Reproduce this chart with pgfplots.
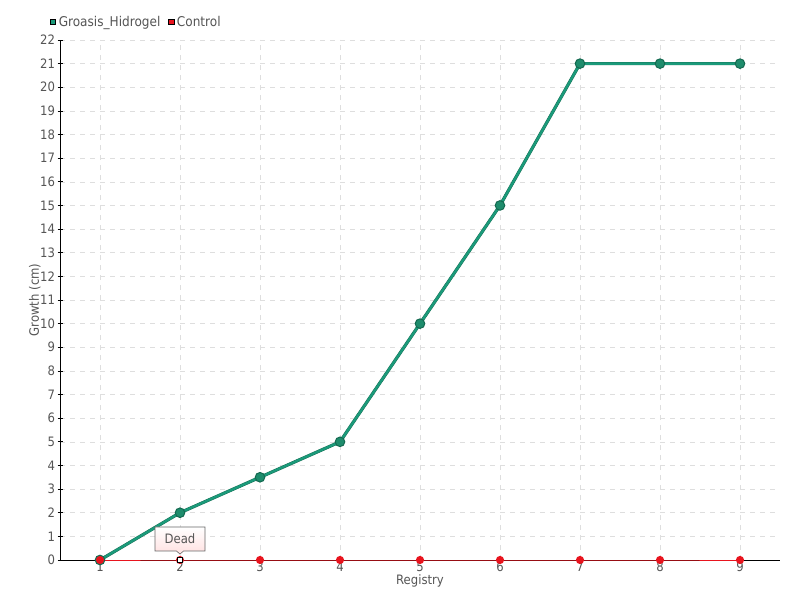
\documentclass[border=0pt]{standalone}
\usepackage{pgfplots}
\pgfplotsset{compat=1.18}
\usepackage{fontspec}
\setmainfont{DejaVu Sans Condensed}
\usetikzlibrary{shapes.callouts}
\definecolor{grn}{RGB}{27,154,122}
\definecolor{grnm}{RGB}{30,140,108}
\definecolor{grnd}{RGB}{20,105,80}
\definecolor{redc}{RGB}{232,20,30}
\definecolor{txt}{RGB}{85,85,85}
\definecolor{gridc}{RGB}{222,222,222}
\begin{document}
\begin{tikzpicture}
\useasboundingbox (0,0) rectangle (800bp,600bp);
\begin{axis}[
  at={(60bp,40bp)}, anchor=south west,
  scale only axis, width=720bp, height=520bp,
  xmin=0.5, xmax=9.5, ymin=0, ymax=22,
  xtick={1,...,9}, ytick={0,...,22},
  axis lines=left, axis line style={-, black, line width=0.8pt},
  tick align=center, major tick length=5bp,
  tick style={black, line width=0.7pt},
  grid=major, major grid style={gridc, dash pattern=on 5bp off 5bp, line width=0.6pt},
  /pgf/number format/assume math mode=true,
  tick label style={font=\fontsize{13}{13}\selectfont, text=txt},
  xticklabel style={yshift=4bp},
  yticklabel style={xshift=1bp},
  xlabel={Registry}, ylabel={Growth (cm)},
  label style={font=\fontsize{13}{13}\selectfont, text=txt},
  xlabel style={at={(axis description cs:0.5,-0.041)}, anchor=center},
  ylabel style={at={(axis description cs:-0.035,0.5)}, anchor=center},
  legend style={at={(0,1)}, anchor=south west, xshift=-13bp, yshift=8bp, draw=none, fill=none,
    font=\fontsize{13.5}{13.5}\selectfont, text=txt, legend columns=-1,
    /tikz/every odd column/.append style={column sep=1bp},
    /tikz/every even column/.append style={column sep=6bp}},
  legend image code/.code={\fill[#1] (0bp,-2.6bp) rectangle (5.2bp,2.6bp);},
  clip=false,
]
\addlegendimage{fill=grn}
\addlegendentry{Groasis\_Hidrogel}
\addlegendimage{fill=redc}
\addlegendentry{Control}
\addplot[forget plot, grnd, line width=3.2pt] coordinates {(1,0) (2,2) (3,3.5) (4,5) (5,10) (6,15) (7,21) (8,21) (9,21)};
\addplot[forget plot, grn, line width=2.4pt, mark=*, mark size=4.8bp,
  mark options={fill=grnm, draw=grnd, line width=1pt}] coordinates {(1,0) (2,2) (3,3.5) (4,5) (5,10) (6,15) (7,21) (8,21) (9,21)};
\addplot[forget plot, redc, line width=0.9pt, mark=*, mark size=3.6bp,
  mark options={fill=redc, draw=redc}] coordinates {(1,0) (2,0) (3,0) (4,0) (5,0) (6,0) (7,0) (8,0) (9,0)};
\addplot[forget plot, only marks, mark=square*, mark size=2.6bp,
  mark options={fill=white, draw=black, line width=0.9pt}] coordinates {(2,0)};
\node[rectangle callout, draw=gray!80!black, line width=0.6pt, top color=white, bottom color=red!12,
  minimum width=50bp, minimum height=24bp, inner sep=0pt,
  font=\fontsize{13}{13}\selectfont, text=txt,
  callout absolute pointer={(axis cs:2,0.25)}] at ([yshift=21bp]axis cs:2,0) {Dead};
\end{axis}
\end{tikzpicture}
\end{document}
